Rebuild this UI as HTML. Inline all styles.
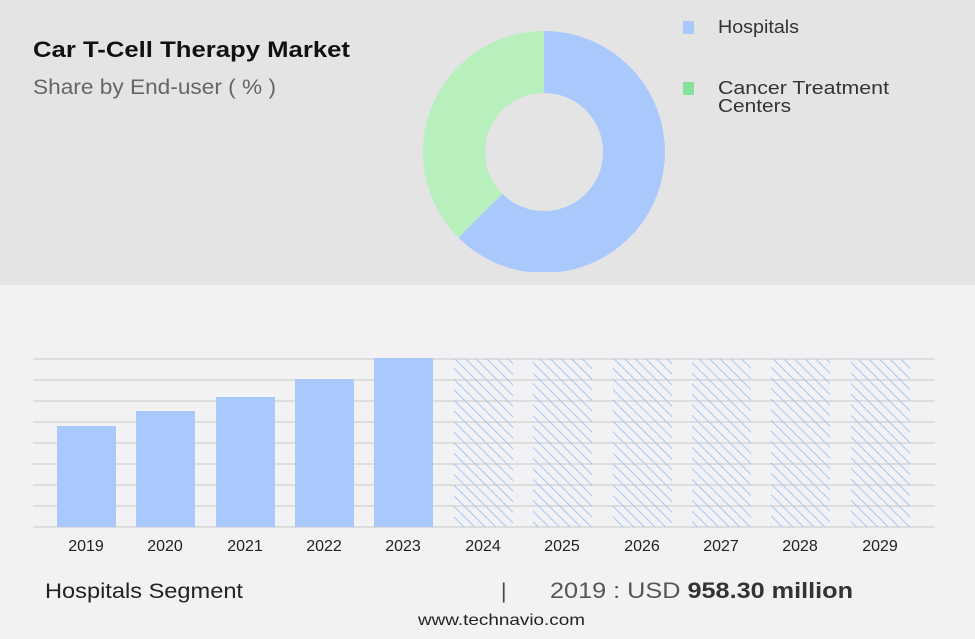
<!DOCTYPE html>
<html><head><meta charset="utf-8"><style>
body{margin:0;width:975px;height:634px;overflow:hidden;background:#f2f2f4;font-family:"Liberation Sans",sans-serif}
</style></head><body>
<svg width="975" height="634" xmlns="http://www.w3.org/2000/svg" font-family="Liberation Sans, sans-serif">
<defs>
<pattern id="h" patternUnits="userSpaceOnUse" width="7.5" height="7.5" patternTransform="rotate(-45)">
<line x1="0" y1="0" x2="0" y2="7.5" stroke="#9fc0f7" stroke-width="1.8"/>
</pattern>
<clipPath id="c"><rect x="0" y="0" width="975" height="272"/></clipPath>
</defs>
<rect x="0" y="0" width="975" height="285" fill="#e4e4e4"/>
<rect x="0" y="285" width="975" height="349" fill="#f2f2f4"/>
<text x="33" y="57" font-size="22" font-weight="bold" fill="#111" textLength="317" lengthAdjust="spacingAndGlyphs">Car T-Cell Therapy Market</text>
<text x="33" y="94" font-size="21" fill="#666" textLength="243" lengthAdjust="spacingAndGlyphs">Share by End-user ( % )</text>
<g clip-path="url(#c)">
<path d="M544 31 A121 121 0 1 1 458.4 237.6 L502.3 193.7 A59 59 0 1 0 544 93 Z" fill="#a9c8fc"/>
<path d="M458.4 237.6 A121 121 0 0 1 544 31 L544 93 A59 59 0 0 0 502.3 193.7 Z" fill="#b7efbd"/>
</g>
<rect x="683" y="21" width="11" height="13" fill="#a9c8fc"/>
<text x="718" y="33" font-size="18" fill="#333" textLength="81" lengthAdjust="spacingAndGlyphs">Hospitals</text>
<rect x="683" y="82" width="11" height="13" fill="#86e29a"/>
<text x="718" y="94" font-size="18" fill="#333" textLength="171" lengthAdjust="spacingAndGlyphs">Cancer Treatment</text>
<text x="718" y="112" font-size="18" fill="#333" textLength="73" lengthAdjust="spacingAndGlyphs">Centers</text>
<g stroke="#d6d6d6" stroke-width="1.5">
<line x1="33" x2="935" y1="359" y2="359"/><line x1="33" x2="935" y1="380" y2="380"/>
<line x1="33" x2="935" y1="401" y2="401"/><line x1="33" x2="935" y1="422" y2="422"/>
<line x1="33" x2="935" y1="443" y2="443"/><line x1="33" x2="935" y1="464" y2="464"/>
<line x1="33" x2="935" y1="485" y2="485"/><line x1="33" x2="935" y1="506" y2="506"/>
<line x1="33" x2="935" y1="527" y2="527"/>
</g>
<g fill="#a9c8fc">
<rect x="57" y="426" width="59" height="101"/>
<rect x="136" y="411" width="59" height="116"/>
<rect x="216" y="397" width="59" height="130"/>
<rect x="295" y="379" width="59" height="148"/>
<rect x="374" y="358" width="59" height="169"/>
</g>
<g fill="url(#h)">
<rect x="454" y="359" width="59" height="168"/>
<rect x="533" y="359" width="59" height="168"/>
<rect x="613" y="359" width="59" height="168"/>
<rect x="692" y="359" width="59" height="168"/>
<rect x="771" y="359" width="59" height="168"/>
<rect x="851" y="359" width="59" height="168"/>
</g>
<g font-size="16" fill="#222" text-anchor="middle">
<text x="86" y="551">2019</text><text x="165" y="551">2020</text><text x="245" y="551">2021</text>
<text x="324" y="551">2022</text><text x="403" y="551">2023</text><text x="483" y="551">2024</text>
<text x="562" y="551">2025</text><text x="642" y="551">2026</text><text x="721" y="551">2027</text>
<text x="800" y="551">2028</text><text x="880" y="551">2029</text>
</g>
<text x="45" y="598" font-size="21" fill="#222" textLength="198" lengthAdjust="spacingAndGlyphs">Hospitals Segment</text>
<text x="501" y="598" font-size="21" fill="#444">|</text>
<text x="550" y="598" font-size="22" fill="#555" textLength="303" lengthAdjust="spacingAndGlyphs">2019 : USD <tspan font-weight="bold" fill="#333">958.30 million</tspan></text>
<text x="418" y="625" font-size="16" fill="#222" textLength="167" lengthAdjust="spacingAndGlyphs">www.technavio.com</text>
</svg>
</body></html>
